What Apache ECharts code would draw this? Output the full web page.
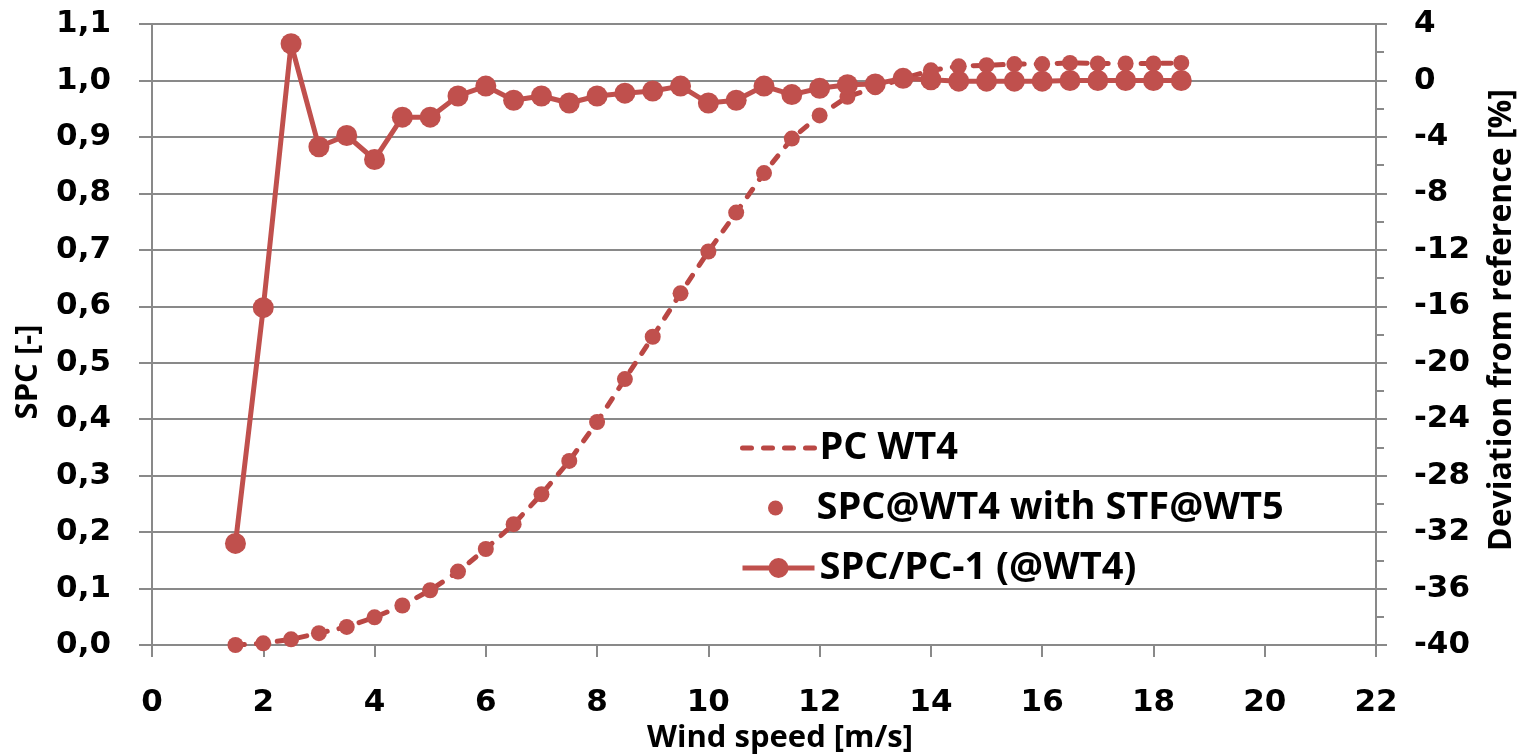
<!DOCTYPE html>
<html>
<head>
<meta charset="utf-8">
<script src="https://cdn.jsdelivr.net/npm/echarts@6/dist/echarts.min.js"></script>
<style>
html,body{margin:0;padding:0;background:#fff;}
#chart{width:1524px;height:755px;}
</style>
</head>
<body>
<div id="chart"></div>
<script>
// ---- data ----
const windSpeed = [1.5, 2, 2.5, 3, 3.5, 4, 4.5, 5, 5.5, 6, 6.5, 7, 7.5, 8, 8.5, 9, 9.5, 10, 10.5, 11, 11.5, 12, 12.5, 13, 13.5, 14, 14.5, 15, 15.5, 16, 16.5, 17, 17.5, 18, 18.5];
const pcWT4 = [0.000, 0.003, 0.010, 0.021, 0.032, 0.049, 0.070, 0.097, 0.130, 0.170, 0.214, 0.267, 0.326, 0.395, 0.471, 0.546, 0.623, 0.697, 0.766, 0.836, 0.897, 0.938, 0.971, 0.988, 1.003, 1.018, 1.025, 1.027, 1.029, 1.029, 1.031, 1.030, 1.030, 1.030, 1.031];
const spcWT4 = [0.000, 0.003, 0.010, 0.021, 0.032, 0.049, 0.070, 0.097, 0.130, 0.170, 0.214, 0.267, 0.326, 0.395, 0.471, 0.546, 0.623, 0.697, 0.766, 0.836, 0.897, 0.938, 0.971, 0.988, 1.003, 1.018, 1.025, 1.027, 1.029, 1.029, 1.031, 1.030, 1.030, 1.030, 1.031];
const deviation = [-32.8, -16.1, 2.6, -4.7, -3.9, -5.6, -2.6, -2.6, -1.1, -0.4, -1.4, -1.1, -1.6, -1.1, -0.9, -0.75, -0.4, -1.6, -1.4, -0.4, -1.0, -0.55, -0.3, -0.25, 0.15, 0.05, -0.05, -0.05, -0.05, -0.05, 0, 0, 0, 0, 0];
const seriesNames = ['PC WT4', 'SPC@WT4 with STF@WT5', 'SPC/PC-1 (@WT4)'];
const xAxisTitle = 'Wind speed [m/s]';
const leftAxisTitle = 'SPC [-]';
const rightAxisTitle = 'Deviation from reference [%]';

// ---- styling ----
const RED = '#C0504D';
const DASH_RED = '#BA4744';
const GRID = '#898989';
const DASH = [9, 12];
const tickFont = {fontFamily: 'DejaVu Sans', fontWeight: 'bold', fontSize: 31, color: '#000'};
const titleFont = 'bold 31px "Open Sans"';
const rightTitleFont = 'bold 32px "Open Sans"';

const chart = echarts.init(document.getElementById('chart'), null, {renderer: 'canvas'});

function legendFor(name, left, top, itemHeight, extra) {
  return Object.assign({
    orient: 'vertical', left: left, top: top, padding: 0,
    itemWidth: 72, itemHeight: itemHeight, itemGap: 0,
    data: [name],
    textStyle: {fontFamily: 'Open Sans', fontWeight: 'bold', fontSize: 38, color: '#000', lineHeight: 40}
  }, extra || {});
}

const option = {
  animation: false,
  backgroundColor: '#fff',
  grid: {left: 152, right: 148, top: 24, bottom: 110},
  legend: [
    legendFor(seriesNames[0], 740, 428, 25, {
      data: [{name: seriesNames[0], itemStyle: {opacity: 0}}],
      lineStyle: {color: DASH_RED, width: 5, type: DASH, cap: 'round'}
    }),
    legendFor(seriesNames[1], 768, 488, 15),
    legendFor(seriesNames[2], 740, 548, 25, {
      lineStyle: {color: RED, width: 5, type: 'solid'}
    })
  ],
  xAxis: {
    type: 'value', min: 0, max: 22, interval: 2,
    axisLine: {show: true, onZero: false, lineStyle: {color: GRID, width: 2}},
    axisTick: {show: true, inside: false, length: 12, lineStyle: {color: GRID, width: 2}},
    axisLabel: Object.assign({margin: 42}, tickFont),
    splitLine: {show: false}
  },
  yAxis: [
    {
      type: 'value', min: 0, max: 1.1, interval: 0.1, position: 'left',
      axisLine: {show: true, lineStyle: {color: GRID, width: 2}},
      axisTick: {show: true, length: 13, lineStyle: {color: GRID, width: 2}},
      axisLabel: Object.assign({margin: 41, formatter: v => v.toFixed(1).replace('.', ',')}, tickFont),
      splitLine: {show: true, lineStyle: {color: GRID, width: 2}}
    },
    {
      type: 'value', min: -40, max: 4, interval: 4, position: 'right',
      axisLine: {show: true, lineStyle: {color: GRID, width: 2}},
      axisTick: {show: true, length: 11, lineStyle: {color: GRID, width: 2}},
      minorTick: {show: true, splitNumber: 2, length: 8, lineStyle: {color: GRID, width: 2}},
      axisLabel: Object.assign({margin: 38, formatter: v => String(Math.round(v))}, tickFont),
      splitLine: {show: false}
    }
  ],
  series: [
    {
      name: seriesNames[0], type: 'line', yAxisIndex: 0,
      data: windSpeed.map((x, i) => [x, pcWT4[i]]),
      symbol: 'none', showSymbol: false,
      lineStyle: {color: DASH_RED, width: 5, type: DASH, cap: 'round'},
      itemStyle: {color: DASH_RED},
      z: 2
    },
    {
      name: seriesNames[1], type: 'scatter', yAxisIndex: 0,
      data: windSpeed.map((x, i) => [x, spcWT4[i]]),
      symbol: 'circle', symbolSize: 16,
      itemStyle: {color: RED, opacity: 1},
      z: 3
    },
    {
      name: seriesNames[2], type: 'line', yAxisIndex: 1,
      data: windSpeed.map((x, i) => [x, deviation[i]]),
      symbol: 'circle', symbolSize: 21, showSymbol: true,
      lineStyle: {color: RED, width: 5},
      itemStyle: {color: RED, borderWidth: 0},
      z: 4
    }
  ],
  graphic: [
    {type: 'text', x: 780, y: 738, silent: true,
     style: {text: xAxisTitle, font: titleFont, fill: '#000', align: 'center', verticalAlign: 'middle'}},
    {type: 'text', x: 28, y: 372, rotation: Math.PI / 2, silent: true,
     style: {text: leftAxisTitle, font: titleFont, fill: '#000', align: 'center', verticalAlign: 'middle'}},
    {type: 'text', x: 1502, y: 320, rotation: Math.PI / 2, silent: true,
     style: {text: rightAxisTitle, font: rightTitleFont, fill: '#000', align: 'center', verticalAlign: 'middle'}}
  ]
};
chart.setOption(option);
</script>
</body>
</html>
